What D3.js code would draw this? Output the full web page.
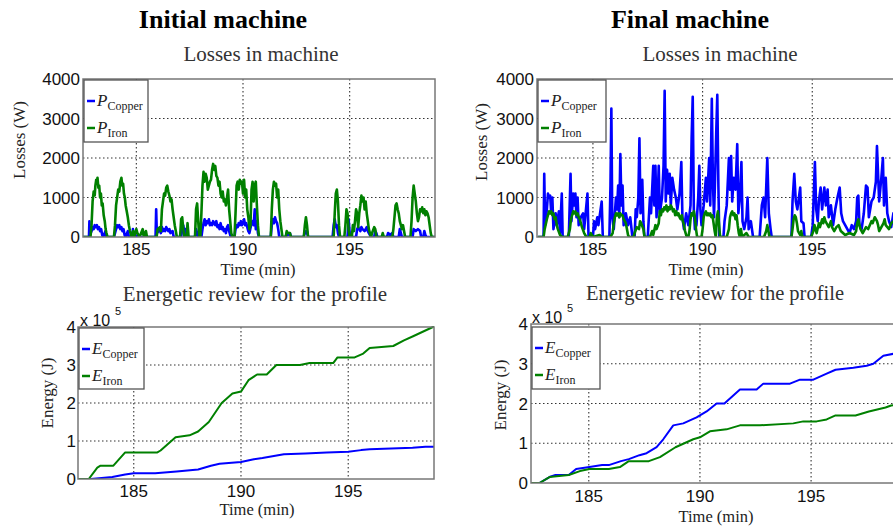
<!DOCTYPE html>
<html>
<head>
<meta charset="utf-8">
<script src="https://cdn.jsdelivr.net/npm/d3@7"></script>
<style>
  body { margin: 0; background: #fff; }
  svg { display: block; }
</style>
</head>
<body>
<svg id="chart" width="893" height="528"></svg>
<script>
(function(){
	'use strict';

	// tick values
	var timeTicks = [185, 190, 195];
	var lossTicks = [0, 1000, 2000, 3000, 4000];
	var energyTicks = [0, 1e5, 2e5, 3e5, 4e5];

	// losses, initial machine [min, W]
	var initCopperLoss = [
		[182.5,0],[182.78,0],[182.8,400],[182.83,50],[182.9,150],[182.95,250],[183.0,200],[183.05,300],[183.1,250],[183.15,300],[183.2,200],[183.25,250],[183.3,150],[183.35,200],[183.4,50],[183.45,0],[183.55,150],[183.6,0],
		[183.95,0],[184.0,100],[184.05,200],[184.1,300],[184.15,250],[184.2,300],[184.25,200],[184.3,250],[184.35,150],[184.4,200],[184.45,50],[184.5,0],[184.6,150],[184.65,0],[184.8,0],[184.84,200],[184.88,0],
		[185.0,0],[185.05,50],[185.1,0],[185.9,0],[185.93,700],[185.96,100],[186.05,150],[186.1,200],[186.15,100],[186.2,250],[186.25,150],[186.3,200],[186.35,150],[186.4,250],[186.45,200],[186.5,150],[186.55,200],[186.6,100],[186.7,150],[186.75,0],
		[187.1,0],[187.15,200],[187.2,300],[187.25,100],[187.3,200],[187.35,0],[187.75,0],[187.8,200],[187.85,100],[187.9,0],
		[188.05,0],[188.1,200],[188.15,350],[188.2,450],[188.25,300],[188.3,400],[188.35,350],[188.4,450],[188.45,300],[188.5,350],[188.55,300],[188.6,400],[188.65,350],[188.7,300],[188.75,400],[188.8,250],[188.85,300],[188.9,200],[188.95,350],[189.0,200],[189.05,250],[189.1,150],[189.15,200],[189.2,100],[189.25,250],[189.3,300],[189.35,150],[189.4,50],[189.45,0],
		[189.6,0],[189.65,200],[189.7,300],[189.75,250],[189.8,350],[189.85,300],[189.9,400],[189.95,300],[190.0,350],[190.05,450],[190.1,300],[190.15,350],[190.2,250],[190.25,150],[190.3,100],[190.4,350],[190.45,400],[190.5,300],[190.55,700],[190.6,200],[190.65,400],[190.7,100],[190.75,0],
		[191.3,0],[191.35,300],[191.4,450],[191.45,350],[191.5,500],[191.55,400],[191.6,350],[191.65,200],[191.7,0],[192.0,0],[192.05,100],[192.1,50],[192.2,100],[192.25,0],
		[192.85,0],[192.9,150],[192.95,100],[193.0,150],[193.05,0],
		[194.2,0],[194.25,300],[194.3,450],[194.35,250],[194.4,300],[194.45,100],[194.5,0],
		[194.9,0],[194.95,450],[195.0,100],[195.05,0],[195.3,0],[195.35,200],[195.4,250],[195.5,150],[195.55,250],[195.6,200],[195.7,150],[195.8,250],[195.85,150],[195.9,100],[196.0,0],[196.15,0],[196.2,150],[196.25,100],[196.3,0],
		[196.75,0],[196.8,100],[196.9,50],[197.0,100],[197.05,0],[197.3,0],[197.35,200],[197.4,100],[197.45,0],[197.95,0],[198.0,200],[198.1,150],[198.2,200],[198.3,150],[198.35,0],[198.45,0],[198.5,150],[198.55,50],[198.6,0],[199.0,0]
	];
	var initIronLoss = [
		[182.5,0],[182.85,0],[182.9,300],[182.95,900],[183.0,1150],[183.05,1050],[183.08,1300],[183.12,1450],[183.15,1350],[183.18,1500],[183.22,1250],[183.26,1300],[183.3,1000],[183.34,1100],[183.38,800],[183.42,850],[183.47,550],[183.52,400],[183.56,200],[183.6,100],[183.65,0],
		[183.95,0],[184.0,300],[184.05,800],[184.1,1000],[184.15,1200],[184.2,1150],[184.25,1400],[184.3,1500],[184.34,1300],[184.38,1350],[184.42,1100],[184.46,1000],[184.5,800],[184.55,650],[184.6,500],[184.65,300],[184.7,150],[184.78,0],
		[184.85,150],[184.9,0],[185.0,200],[185.05,100],[185.15,0],[185.3,200],[185.35,0],[185.45,150],[185.5,0],
		[185.95,0],[186.0,200],[186.1,250],[186.15,150],[186.2,700],[186.25,900],[186.3,1100],[186.35,1050],[186.4,1250],[186.45,1300],[186.5,1150],[186.55,1050],[186.6,900],[186.65,950],[186.7,700],[186.75,500],[186.8,300],[186.85,150],[186.9,0],
		[187.05,0],[187.1,450],[187.15,500],[187.2,200],[187.25,0],[187.35,0],[187.4,350],[187.45,0],
		[187.75,0],[187.8,700],[187.85,850],[187.9,400],[187.95,0],[188.0,0],[188.05,600],[188.1,1300],[188.15,1650],[188.2,1400],[188.25,1600],[188.3,1500],[188.35,1200],[188.4,1300],[188.45,1400],[188.5,1450],[188.55,1700],[188.6,1850],[188.65,1700],[188.7,1800],[188.75,1550],[188.8,1500],[188.85,1300],[188.9,1400],[188.95,1100],[189.0,1000],[189.05,1150],[189.1,900],[189.15,950],[189.2,800],[189.25,1000],[189.3,1200],[189.35,700],[189.4,400],[189.45,100],[189.5,0],
		[189.6,0],[189.65,600],[189.7,1300],[189.75,1400],[189.8,1200],[189.85,1450],[189.9,1350],[189.95,1400],[190.0,1100],[190.05,1450],[190.1,1000],[190.15,1200],[190.2,700],[190.25,500],[190.3,200],[190.35,300],[190.4,1200],[190.45,1400],[190.5,900],[190.55,1300],[190.6,1400],[190.65,800],[190.7,300],[190.75,0],
		[191.3,0],[191.35,700],[191.4,1200],[191.45,1400],[191.5,1300],[191.55,1350],[191.6,1000],[191.65,1200],[191.7,700],[191.75,400],[191.8,200],[191.85,0],[192.0,0],[192.05,150],[192.1,100],[192.2,100],[192.25,0],
		[192.85,0],[192.9,300],[192.95,500],[193.0,300],[193.05,0],
		[194.25,0],[194.3,600],[194.35,1100],[194.4,1200],[194.45,900],[194.5,300],[194.55,0],
		[194.75,0],[194.8,300],[194.85,700],[194.9,600],[194.95,200],[195.0,0],[195.1,0],[195.15,300],[195.2,150],[195.25,400],[195.3,700],[195.35,600],[195.4,250],[195.45,600],[195.5,800],[195.55,1050],[195.6,900],[195.65,1000],[195.7,700],[195.75,900],[195.8,600],[195.85,400],[195.9,200],[195.95,100],[196.0,0],[196.05,100],[196.15,250],[196.2,200],[196.25,0],
		[196.5,0],[196.55,100],[196.6,0],[197.0,0],[197.05,200],[197.1,500],[197.15,800],[197.2,850],[197.25,700],[197.3,600],[197.35,400],[197.4,300],[197.45,200],[197.5,300],[197.55,150],[197.6,0],
		[197.85,0],[197.9,400],[197.95,1000],[198.0,1300],[198.05,1100],[198.1,900],[198.15,600],[198.2,400],[198.25,500],[198.3,700],[198.35,650],[198.4,750],[198.45,600],[198.5,700],[198.55,550],[198.6,650],[198.65,600],[198.7,500],[198.75,300],[198.8,100],[198.85,0],[199.0,0]
	];

	// losses, final machine [min, W]
	var finalCopperLoss = [
		[182.5,0],[182.75,0],[182.78,1600],[182.82,300],[182.9,700],[182.95,1100],[183.0,1000],[183.05,1050],[183.1,600],[183.15,1000],[183.2,200],[183.3,600],[183.35,300],[183.45,650],[183.5,100],[183.58,1100],[183.62,0],
		[183.9,0],[183.98,1600],[184.02,400],[184.1,1100],[184.15,800],[184.2,1100],[184.25,500],[184.3,1000],[184.35,300],[184.45,500],[184.55,600],[184.6,200],[184.75,1100],[184.8,0],
		[185.0,0],[185.05,400],[185.1,200],[185.2,500],[185.25,300],[185.35,700],[185.4,900],[185.45,0],
		[185.75,0],[185.8,1300],[185.84,3250],[185.88,500],[185.95,200],[186.05,1000],[186.1,700],[186.15,1300],[186.2,500],[186.25,2100],[186.3,800],[186.35,1300],[186.4,300],[186.5,600],[186.6,300],[186.7,500],[186.8,0],
		[186.9,0],[186.95,700],[187.0,500],[187.07,1000],[187.12,2500],[187.17,600],[187.25,1450],[187.3,400],[187.35,0],
		[187.5,0],[187.55,500],[187.6,1000],[187.65,600],[187.75,1800],[187.8,800],[187.85,1800],[187.9,500],[187.95,900],[188.0,1800],[188.05,600],[188.15,1000],[188.22,1800],[188.27,3700],[188.32,900],[188.38,1700],[188.45,1100],[188.5,1600],[188.55,800],[188.62,1500],[188.7,1200],[188.78,1000],[188.85,700],[188.95,1100],[189.03,1900],[189.08,500],[189.15,200],[189.25,600],[189.35,300],[189.45,800],[189.5,2500],[189.55,3550],[189.6,700],[189.65,200],[189.72,300],[189.8,1000],[189.85,1800],[189.9,700],[189.95,300],[190.05,800],[190.15,1500],[190.2,900],[190.3,2000],[190.35,800],[190.42,3500],[190.47,1400],[190.52,500],[190.57,1500],[190.62,2600],[190.67,3600],[190.72,1300],[190.76,0],
		[190.95,0],[191.0,400],[191.1,800],[191.2,2000],[191.25,1200],[191.3,2050],[191.35,900],[191.42,1500],[191.5,1200],[191.58,2350],[191.63,600],[191.7,1000],[191.77,1900],[191.82,400],[191.9,200],[192.0,500],[192.05,1000],[192.1,200],[192.2,400],[192.3,0],
		[192.6,0],[192.7,800],[192.78,1000],[192.85,500],[192.95,2000],[193.02,600],[193.1,200],[193.15,0],
		[194.05,0],[194.1,900],[194.18,1600],[194.25,900],[194.32,700],[194.45,1250],[194.5,400],[194.6,350],[194.65,0],
		[194.95,0],[195.02,300],[195.12,1900],[195.18,700],[195.25,400],[195.3,900],[195.38,1250],[195.45,700],[195.55,1250],[195.62,800],[195.7,1200],[195.75,500],[195.85,800],[195.95,300],[196.05,700],[196.15,1000],[196.25,1250],[196.32,600],[196.4,400],[196.5,300],[196.6,200],[196.7,100],[196.8,300],[196.9,200],[197.0,400],[197.05,1000],[197.1,1050],[197.15,300],[197.25,200],[197.35,600],[197.45,1300],[197.52,1250],[197.58,500],[197.7,900],[197.8,1000],[197.9,1400],[197.95,2300],[198.0,1600],[198.05,900],[198.15,1500],[198.22,2000],[198.27,800],[198.35,1500],[198.42,600],[198.5,400],[198.6,250],[198.7,600],[198.8,500],[198.9,200],[199.0,300]
	];
	var finalIronLoss = [
		[182.5,0],[182.75,0],[182.8,200],[182.9,450],[182.95,550],[183.0,650],[183.05,600],[183.1,650],[183.15,550],[183.2,600],[183.25,450],[183.3,500],[183.35,300],[183.4,200],[183.5,50],[183.6,0],
		[183.85,0],[183.95,200],[184.0,450],[184.05,550],[184.1,650],[184.15,600],[184.2,650],[184.25,550],[184.3,600],[184.35,500],[184.4,450],[184.45,350],[184.5,250],[184.6,100],[184.7,0],
		[184.85,0],[184.9,100],[185.0,0],[185.3,50],[185.4,0],
		[185.8,0],[185.9,100],[185.95,350],[186.0,500],[186.05,600],[186.1,550],[186.15,600],[186.2,500],[186.25,600],[186.3,550],[186.35,550],[186.4,450],[186.5,350],[186.55,200],[186.6,50],[186.65,0],
		[186.85,0],[186.9,100],[187.0,250],[187.1,200],[187.15,400],[187.2,350],[187.3,200],[187.35,0],
		[187.6,0],[187.7,150],[187.75,50],[187.85,300],[187.9,200],[188.0,350],[188.05,650],[188.1,550],[188.15,700],[188.2,650],[188.25,750],[188.3,700],[188.35,800],[188.4,650],[188.45,750],[188.5,700],[188.55,800],[188.6,750],[188.65,650],[188.7,700],[188.75,550],[188.8,650],[188.85,550],[188.9,600],[188.95,500],[189.0,450],[189.05,550],[189.1,400],[189.15,300],[189.2,150],[189.25,50],[189.3,0],
		[189.35,0],[189.4,150],[189.45,450],[189.5,600],[189.55,550],[189.6,650],[189.65,500],[189.7,200],[189.75,0],
		[189.95,0],[190.0,200],[190.05,500],[190.1,600],[190.15,650],[190.2,550],[190.25,600],[190.3,550],[190.35,600],[190.4,500],[190.45,550],[190.5,350],[190.55,150],[190.6,0],[190.65,500],[190.7,650],[190.75,300],[190.8,0],
		[191.1,0],[191.2,200],[191.25,500],[191.3,600],[191.35,650],[191.4,550],[191.45,600],[191.5,450],[191.55,550],[191.6,300],[191.65,100],[191.7,0],[191.75,200],[191.8,0],[192.0,100],[192.1,0],
		[192.8,0],[192.9,150],[192.95,300],[193.0,150],[193.05,0],
		[194.05,0],[194.1,200],[194.15,450],[194.2,550],[194.25,500],[194.3,350],[194.35,150],[194.45,50],[194.5,150],[194.55,0],
		[194.95,0],[195.05,150],[195.1,300],[195.2,100],[195.3,350],[195.35,250],[195.45,450],[195.5,350],[195.55,500],[195.6,400],[195.65,350],[195.75,250],[195.85,400],[195.9,250],[196.0,150],[196.1,250],[196.2,300],[196.3,150],[196.4,100],[196.5,50],[196.7,100],[196.9,50],[197.0,150],[197.05,350],[197.1,450],[197.15,300],[197.2,200],[197.3,100],[197.45,250],[197.55,200],[197.7,400],[197.75,350],[197.85,500],[197.95,400],[198.0,300],[198.05,150],[198.1,200],[198.25,350],[198.3,450],[198.35,300],[198.5,200],[198.6,350],[198.7,400],[198.8,250],[198.9,350],[199.0,300]
	];

	// cumulative energy [min, J]
	var initCopperEnergy = [
		[182.4,0],[183.0,0],[184.0,5000],[184.6,12000],[185.0,15000],[186.0,15000],[187.0,20000],[188.0,25000],[188.6,35000],[189.0,40000],[190.0,45000],[190.6,52000],[191.0,55000],[192.0,65000],[193.0,67000],[194.0,70000],[195.0,72000],[195.6,76000],[196.0,78000],[197.0,80000],[198.0,82000],[198.6,85000],[199.0,85000]
	];
	var initIronEnergy = [
		[182.4,0],[182.9,0],[183.3,30000],[183.45,35000],[184.05,35000],[184.6,70000],[186.1,70000],[186.25,75000],[186.95,110000],[187.6,115000],[188.0,125000],[188.5,150000],[189.1,200000],[189.6,225000],[190.0,230000],[190.35,260000],[190.75,275000],[191.2,275000],[191.65,300000],[192.75,300000],[193.2,305000],[194.3,305000],[194.5,320000],[195.3,320000],[195.7,330000],[196.0,345000],[197.1,350000],[197.6,365000],[198.0,375000],[198.95,400000],[199.0,400000]
	];
	var finalCopperEnergy = [
		[182.4,0],[182.78,0],[183.23,15000],[183.5,20000],[184.1,20000],[184.43,35000],[185.03,40000],[185.6,45000],[185.9,45000],[186.45,55000],[186.8,60000],[187.28,70000],[187.6,75000],[188.05,90000],[188.35,110000],[188.8,145000],[189.25,150000],[189.85,165000],[190.3,180000],[190.75,200000],[191.1,200000],[191.8,235000],[192.55,235000],[192.85,250000],[194.05,250000],[194.5,260000],[195.1,260000],[195.7,275000],[196.1,285000],[196.9,290000],[197.5,295000],[197.8,300000],[198.25,320000],[198.7,325000],[199.0,325000]
	];
	var finalIronEnergy = [
		[182.4,0],[182.78,0],[183.23,15000],[184.1,20000],[184.6,30000],[185.03,35000],[185.9,35000],[186.4,40000],[186.8,55000],[187.7,55000],[188.2,65000],[188.9,90000],[189.7,110000],[190.0,115000],[190.45,130000],[191.2,135000],[191.8,145000],[192.7,145000],[194.2,150000],[194.65,155000],[195.25,155000],[195.7,160000],[196.1,170000],[197.0,170000],[197.6,180000],[198.35,190000],[198.6,195000],[199.0,198000]
	];

	var svg = d3.select('#chart');
	var serif = '"Liberation Serif", "Times New Roman", serif';
	var sans = '"Liberation Sans", Arial, Helvetica, sans-serif';
	var BLUE = '#0000ff', GREEN = '#008000';

	function text(g, x, y, str, size, opts){
		opts = opts || {};
		return g.append('text')
			.attr('x', x).attr('y', y)
			.attr('font-family', opts.family || serif)
			.attr('font-size', size + 'px')
			.attr('font-weight', opts.weight || 'normal')
			.attr('fill', opts.fill || '#222')
			.attr('text-anchor', opts.anchor || 'middle')
			.text(str);
	}

	function drawPanel(p, idx){
		var g = svg.append('g');
		var x = d3.scaleLinear().domain(p.xDomain).range([p.left, p.right]);
		var y = d3.scaleLinear().domain(p.yDomain).range([p.bottom, p.top]);
		var w = p.right - p.left, h = p.bottom - p.top;

		// grid
		g.append('g').selectAll('line.gx').data(timeTicks).enter().append('line')
			.attr('x1', function(d){ return x(d); }).attr('x2', function(d){ return x(d); })
			.attr('y1', p.top).attr('y2', p.bottom)
			.attr('stroke', '#333').attr('stroke-width', 1.1).attr('stroke-dasharray', '1.5,2.5');
		g.append('g').selectAll('line.gy').data(p.yTicks.slice(1, -1)).enter().append('line')
			.attr('x1', p.left).attr('x2', p.right)
			.attr('y1', function(d){ return y(d); }).attr('y2', function(d){ return y(d); })
			.attr('stroke', '#333').attr('stroke-width', 1.1).attr('stroke-dasharray', '1.5,2.5');

		// series
		var clipId = 'clip' + idx;
		g.append('clipPath').attr('id', clipId).append('rect')
			.attr('x', p.left).attr('y', p.top - 2).attr('width', w).attr('height', h + 2);
		var line = d3.line().x(function(d){ return x(d[0]); }).y(function(d){ return y(d[1]); });
		p.series.forEach(function(s){
			g.append('path').datum(s.data)
				.attr('clip-path', 'url(#' + clipId + ')')
				.attr('fill', 'none')
				.attr('stroke', s.color)
				.attr('stroke-width', p.lineWidth)
				.attr('stroke-linejoin', 'round')
				.attr('d', line);
		});

		// axes frame
		g.append('rect').attr('x', p.left).attr('y', p.top).attr('width', w).attr('height', h)
			.attr('fill', 'none').attr('stroke', '#777').attr('stroke-width', 1.5);

		// tick labels
		g.append('g').selectAll('text').data(timeTicks).enter().append('text')
			.attr('x', function(d){ return x(d); }).attr('y', p.xTickY)
			.attr('font-family', sans).attr('font-size', '17px').attr('fill', '#111')
			.attr('text-anchor', 'middle').text(function(d){ return d; });
		g.append('g').selectAll('text').data(p.yTicks).enter().append('text')
			.attr('x', p.yTickX).attr('y', function(d){ return y(d); }).attr('dy', '0.36em')
			.attr('font-family', sans).attr('font-size', '17px').attr('fill', '#111')
			.attr('text-anchor', 'end').text(p.yFormat);

		if (p.exponent) {
			text(g, p.exponent[0], p.exponent[1], 'x 10', 16, {family: sans, anchor: 'start', fill: '#111'});
			text(g, p.exponent[0] + 35, p.exponent[1] - 11, '5', 11, {family: sans, anchor: 'start', fill: '#111'});
		}

		// labels
		text(g, p.subtitle[1], p.subtitle[2], p.subtitle[0], p.subtitle[3], {fill: '#333'});
		text(g, p.xLabel[0], p.xLabel[1], 'Time (min)', 16.5);
		g.append('text')
			.attr('transform', 'translate(' + p.yLabel[1] + ',' + p.yLabel[2] + ') rotate(-90)')
			.attr('font-family', serif).attr('font-size', '17px').attr('fill', '#222')
			.attr('text-anchor', 'middle').text(p.yLabel[0]);

		// legend
		var lg = g.append('g').attr('transform', 'translate(' + (p.left + p.legend[0]) + ',' + (p.top + p.legend[1]) + ')');
		lg.append('rect').attr('width', p.legend[2]).attr('height', p.legend[3])
			.attr('fill', '#fff').attr('stroke', '#555').attr('stroke-width', 1.3);
		p.series.forEach(function(s, i){
			var ly = 21 + i * 27;
			lg.append('line').attr('x1', 3).attr('x2', 11).attr('y1', ly).attr('y2', ly)
				.attr('stroke', s.color).attr('stroke-width', 2.5);
			var t = lg.append('text').attr('x', 13).attr('y', ly + 5)
				.attr('font-family', serif).attr('font-size', '17px').attr('fill', '#222');
			t.append('tspan').attr('font-style', 'italic').text(p.symbol);
			t.append('tspan').attr('font-size', '12px').attr('dy', 4).text(s.name);
		});
	}

	var panels = [
		{ left: 83, right: 435, top: 79, bottom: 237, xDomain: [182.5, 199], yDomain: [0, 4000], yTicks: lossTicks,
		  yFormat: function(d){ return d; }, xTickY: 254.5, yTickX: 80, lineWidth: 2.6, symbol: 'P',
		  subtitle: ['Losses in machine', 261, 61, 21], xLabel: [258, 275], yLabel: ['Losses (W)', 25, 140],
		  legend: [1, 1, 64, 62],
		  series: [{name: 'Copper', color: BLUE, data: initCopperLoss}, {name: 'Iron', color: GREEN, data: initIronLoss}] },
		{ left: 537, right: 900, top: 79, bottom: 237, xDomain: [182.45, 199], yDomain: [0, 4000], yTicks: lossTicks,
		  yFormat: function(d){ return d; }, xTickY: 254.5, yTickX: 534, lineWidth: 2.6, symbol: 'P',
		  subtitle: ['Losses in machine', 720, 61, 21], xLabel: [706, 275], yLabel: ['Losses (W)', 487, 142],
		  legend: [1, 1, 68, 62],
		  series: [{name: 'Copper', color: BLUE, data: finalCopperLoss}, {name: 'Iron', color: GREEN, data: finalIronLoss}] },
		{ left: 78, right: 434, top: 327, bottom: 479, xDomain: [182.4, 199], yDomain: [0, 4e5], yTicks: energyTicks,
		  yFormat: function(d){ return d / 1e5; }, xTickY: 497, yTickX: 76, lineWidth: 2, symbol: 'E',
		  subtitle: ['Energetic review for the profile', 255, 301, 21], xLabel: [257, 515], yLabel: ['Energy (J)', 53, 393],
		  legend: [1, 1, 65, 61], exponent: [80, 326],
		  series: [{name: 'Copper', color: BLUE, data: initCopperEnergy}, {name: 'Iron', color: GREEN, data: initIronEnergy}] },
		{ left: 531, right: 900, top: 324, bottom: 483, xDomain: [182.4, 199], yDomain: [0, 4e5], yTicks: energyTicks,
		  yFormat: function(d){ return d / 1e5; }, xTickY: 502, yTickX: 528, lineWidth: 2, symbol: 'E',
		  subtitle: ['Energetic review for the profile', 715, 300, 20.5], xLabel: [716, 522], yLabel: ['Energy (J)', 506, 395],
		  legend: [1, 3, 68, 62], exponent: [532, 323],
		  series: [{name: 'Copper', color: BLUE, data: finalCopperEnergy}, {name: 'Iron', color: GREEN, data: finalIronEnergy}] }
	];

	panels.forEach(drawPanel);

	// machine headings
	text(svg, 223, 28, 'Initial machine', 26, {weight: 'bold', fill: '#000'});
	text(svg, 690, 28, 'Final machine', 26, {weight: 'bold', fill: '#000'});
})();
</script>
</body>
</html>
